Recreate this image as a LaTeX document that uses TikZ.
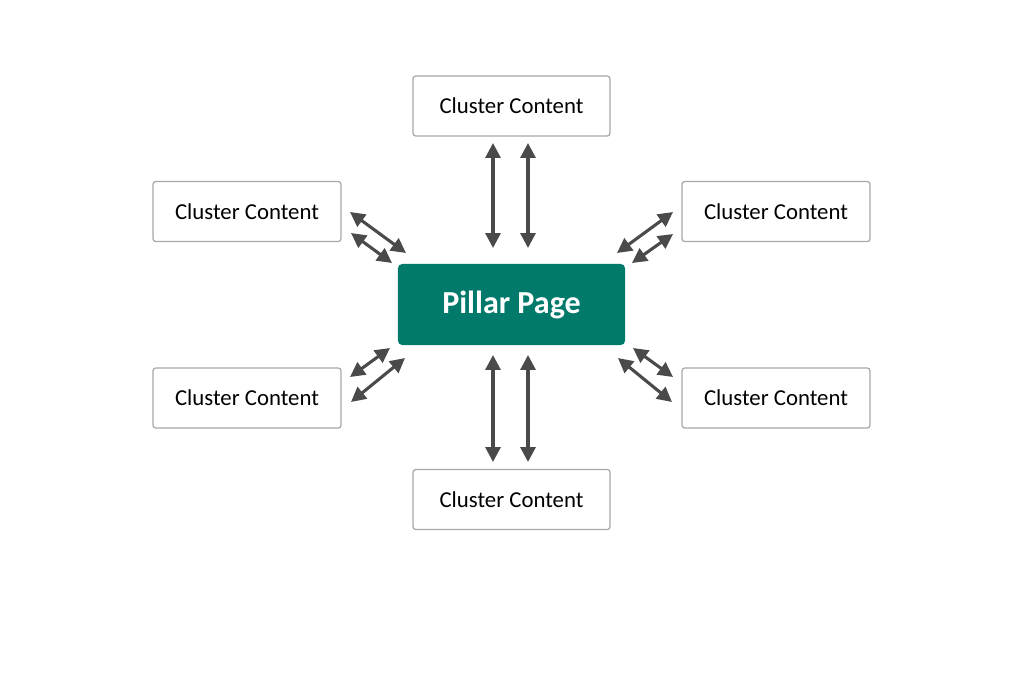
\documentclass[tikz,border=0pt]{standalone}
\usepackage{fontspec}
\setmainfont{Carlito}
\usetikzlibrary{arrows.meta}
\definecolor{pillarteal}{HTML}{017A6C}
\definecolor{boxgray}{HTML}{A8A8A8}
\definecolor{arrowgray}{HTML}{4A4A4A}
\tikzset{
    cluster/.style={draw=boxgray, line width=0.9pt, rounded corners=2pt,
    	fill=white, minimum width=4.7cm, minimum height=1.5cm, inner sep=0pt,
    	font=\fontsize{16.2}{19}\selectfont}
}
\tikzset{
    pillar/.style={fill=pillarteal, rounded corners=3pt, minimum width=5.675cm,
    	minimum height=2.025cm, text=white, inner sep=0pt,
    	font=\fontsize{22.8}{27}\selectfont\bfseries}
}
\tikzset{
    link/.style={draw=arrowgray, line width=2.2pt,
    	{Triangle[length=10.5pt,width=10.5pt]}-{Triangle[length=10.5pt,width=10.5pt]}}
}

\begin{document}
\begin{tikzpicture}[x=0.025cm, y=-0.025cm]
  \useasboundingbox (0,0) rectangle (1024,683);

  \node (pillar) [pillar] at (511.5, 304.5) {Pillar Page};
  \node (top) [cluster, minimum width=4.925cm] at (511.5, 106) {Cluster Content};
  \node (bot) [cluster, minimum width=4.925cm] at (511.5, 499.5) {Cluster Content};
  \node (ul) [cluster] at (247, 211.5) {Cluster Content};
  \node (ur) [cluster] at (776, 211.5) {Cluster Content};
  \node (ll) [cluster] at (247, 398) {Cluster Content};
  \node (lr) [cluster] at (776, 398) {Cluster Content};

  % arrow ends
  \coordinate (t1) at (493, 143); \coordinate (t2) at (528, 143);
  \coordinate (pt1) at (493, 248); \coordinate (pt2) at (528, 248);
  \coordinate (b1) at (493, 462); \coordinate (b2) at (528, 462);
  \coordinate (pb1) at (493, 355); \coordinate (pb2) at (528, 355);
  \coordinate (ul1) at (350, 212); \coordinate (pul1) at (406, 253);
  \coordinate (ul2) at (351, 233); \coordinate (pul2) at (392, 263);
  \coordinate (ur1) at (673, 212); \coordinate (pur1) at (617, 253);
  \coordinate (ur2) at (673, 234); \coordinate (pur2) at (632, 263);
  \coordinate (ll1) at (350, 377); \coordinate (pll1) at (390, 348);
  \coordinate (ll2) at (351, 402); \coordinate (pll2) at (405, 358);
  \coordinate (lr1) at (673, 377); \coordinate (plr1) at (633, 348);
  \coordinate (lr2) at (672, 402); \coordinate (plr2) at (618, 358);

  \draw[link] (t1) -- (pt1); \draw[link] (t2) -- (pt2);
  \draw[link] (b1) -- (pb1); \draw[link] (b2) -- (pb2);
  \draw[link] (ul1) -- (pul1); \draw[link] (ul2) -- (pul2);
  \draw[link] (ur1) -- (pur1); \draw[link] (ur2) -- (pur2);
  \draw[link] (ll1) -- (pll1); \draw[link] (ll2) -- (pll2);
  \draw[link] (lr1) -- (plr1); \draw[link] (lr2) -- (plr2);
\end{tikzpicture}
\end{document}
